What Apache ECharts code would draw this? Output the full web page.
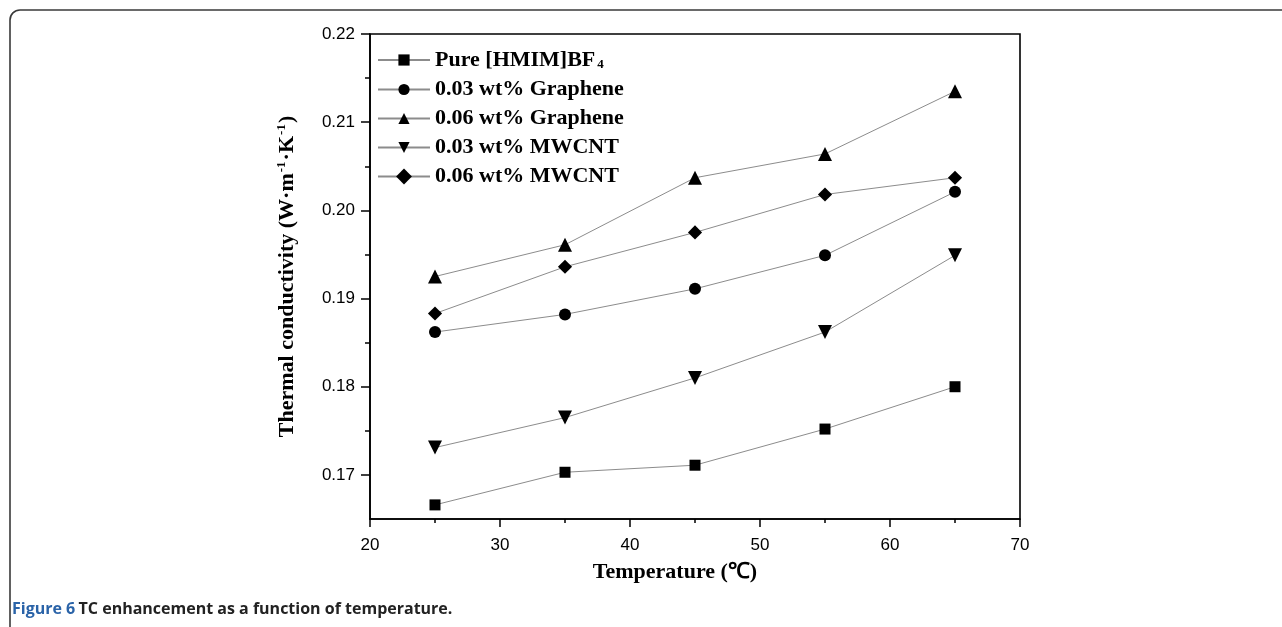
<!DOCTYPE html>
<html>
<head>
<meta charset="utf-8">
<script src="https://cdn.jsdelivr.net/npm/echarts@6.0.0/dist/echarts.min.js"></script>
<style>
  html, body { margin: 0; padding: 0; background: #fff; }
  #chart { width: 1282px; height: 627px; }
</style>
</head>
<body>
<div id="chart"></div>
<script>
// temperatures (℃)
var temps = [25, 35, 45, 55, 65];
// thermal conductivity, W/(m·K)
var pureIL = [0.1666, 0.1703, 0.1711, 0.1752, 0.1800];
var graphene003 = [0.1862, 0.1882, 0.1911, 0.1949, 0.2021];
var graphene006 = [0.1925, 0.1961, 0.2037, 0.2064, 0.2135];
var mwcnt003 = [0.1731, 0.1765, 0.1810, 0.1862, 0.1949];
var mwcnt006 = [0.1883, 0.1936, 0.1975, 0.2018, 0.2037];

var seriesNames = ['Pure [HMIM]BF4', '0.03 wt% Graphene', '0.06 wt% Graphene', '0.03 wt% MWCNT', '0.06 wt% MWCNT'];
var yMajorTicks = [0.17, 0.18, 0.19, 0.20, 0.21, 0.22];
var yMinorTicks = [0.175, 0.185, 0.195, 0.205, 0.215];

var serif = '"Liberation Serif", "Times New Roman", serif';
var sans = '"Liberation Sans", Arial, sans-serif';

function pairs(ys) {
  return temps.map(function (t, i) { return [t, ys[i]]; });
}

function makeSeries(name, ys, symbol, size, rotate) {
  return {
    name: name,
    type: 'line',
    data: pairs(ys),
    symbol: symbol,
    symbolSize: size,
    symbolRotate: rotate || 0,
    showAllSymbol: true,
    lineStyle: { color: '#8c8c8c', width: 1 },
    itemStyle: { color: '#000', borderWidth: 0 },
    emphasis: { disabled: true },
    z: 3
  };
}

var chart = echarts.init(document.getElementById('chart'));
chart.setOption({
  backgroundColor: '#fff',
  animation: false,
  grid: {
    left: 370, right: 262, top: 34, bottom: 108,
    show: true, borderColor: '#000', borderWidth: 1.6
  },
  legend: {
    data: seriesNames,
    orient: 'vertical',
    left: 372,
    top: 44,
    itemWidth: 52,
    itemHeight: 14,
    itemGap: 7,
    textStyle: {
      fontFamily: serif, fontWeight: 'bold', fontSize: 22, color: '#000',
      rich: {
        n: { fontFamily: serif, fontWeight: 'bold', fontSize: 22, color: '#000' },
        s: { fontFamily: serif, fontWeight: 'bold', fontSize: 13, color: '#000', padding: [10, 0, 0, 2] }
      }
    },
    formatter: function (name) {
      if (name === 'Pure [HMIM]BF4') return '{n|Pure [HMIM]BF}{s|4}';
      return '{n|' + name + '}';
    }
  },
  xAxis: {
    type: 'value',
    min: 20, max: 70, interval: 10,
    name: 'Temperature (℃)',
    nameLocation: 'middle',
    nameGap: 42,
    nameTextStyle: { fontFamily: serif, fontWeight: 'bold', fontSize: 22, color: '#000', padding: [0, 40, 0, 0] },
    axisLine: { show: true, lineStyle: { color: '#000', width: 1.6 } },
    axisTick: { show: true, length: 8, lineStyle: { color: '#000', width: 1.5 } },
    minorTick: { show: true, splitNumber: 2, length: 4, lineStyle: { color: '#000', width: 1.5 } },
    axisLabel: { fontFamily: sans, fontSize: 17, color: '#000', margin: 18 },
    splitLine: { show: false }
  },
  yAxis: [{
    type: 'value',
    min: 0.165, max: 0.22,
    name: '{a|Thermal conductivity (W·m}{p|-1}{a|·K}{p|-1}{a|)}',
    nameLocation: 'middle',
    nameRotate: 90,
    nameGap: 70,
    nameTextStyle: {
      rich: {
        a: { fontFamily: serif, fontWeight: 'bold', fontSize: 22, color: '#000' },
        p: { fontFamily: serif, fontWeight: 'bold', fontSize: 13, color: '#000', padding: [0, 1, 12, 1] }
      }
    },
    axisLine: { show: true, lineStyle: { color: '#000', width: 1.6 } },
    axisTick: { show: true, length: 9, customValues: yMajorTicks, lineStyle: { color: '#000', width: 1.5 } },
    axisLabel: {
      customValues: yMajorTicks,
      fontFamily: sans, fontSize: 17, color: '#000', margin: 15,
      formatter: function (v) { return v.toFixed(2); }
    },
    splitLine: { show: false }
  }, {
    type: 'value',
    position: 'left',
    min: 0.165, max: 0.22,
    axisLine: { show: false },
    axisTick: { show: true, length: 5, customValues: yMinorTicks, lineStyle: { color: '#000', width: 1.5 } },
    axisLabel: { show: false },
    splitLine: { show: false }
  }],
  series: [
    makeSeries(seriesNames[0], pureIL, 'rect', 11),
    makeSeries(seriesNames[1], graphene003, 'circle', 12),
    makeSeries(seriesNames[2], graphene006, 'triangle', 14),
    makeSeries(seriesNames[3], mwcnt003, 'triangle', 14, 180),
    makeSeries(seriesNames[4], mwcnt006, 'rect', 10, 45)
  ],
  graphic: [{
    type: 'rect',
    shape: { x: 10, y: 10, width: 1320, height: 700, r: 10 },
    style: { fill: 'none', stroke: '#3a3a3a', lineWidth: 1.6 },
    silent: true
  }, {
    type: 'text',
    left: 12,
    top: 601,
    style: {
      text: '{b|Figure 6} {t|TC enhancement as a function of temperature.}',
      rich: {
        b: { fontFamily: '"Open Sans", Arial, sans-serif', fontWeight: 'bold', fontSize: 16, fill: '#2a63a8' },
        t: { fontFamily: '"Open Sans", Arial, sans-serif', fontWeight: 'bold', fontSize: 16, fill: '#222' }
      }
    }
  }]
});
</script>
</body>
</html>
